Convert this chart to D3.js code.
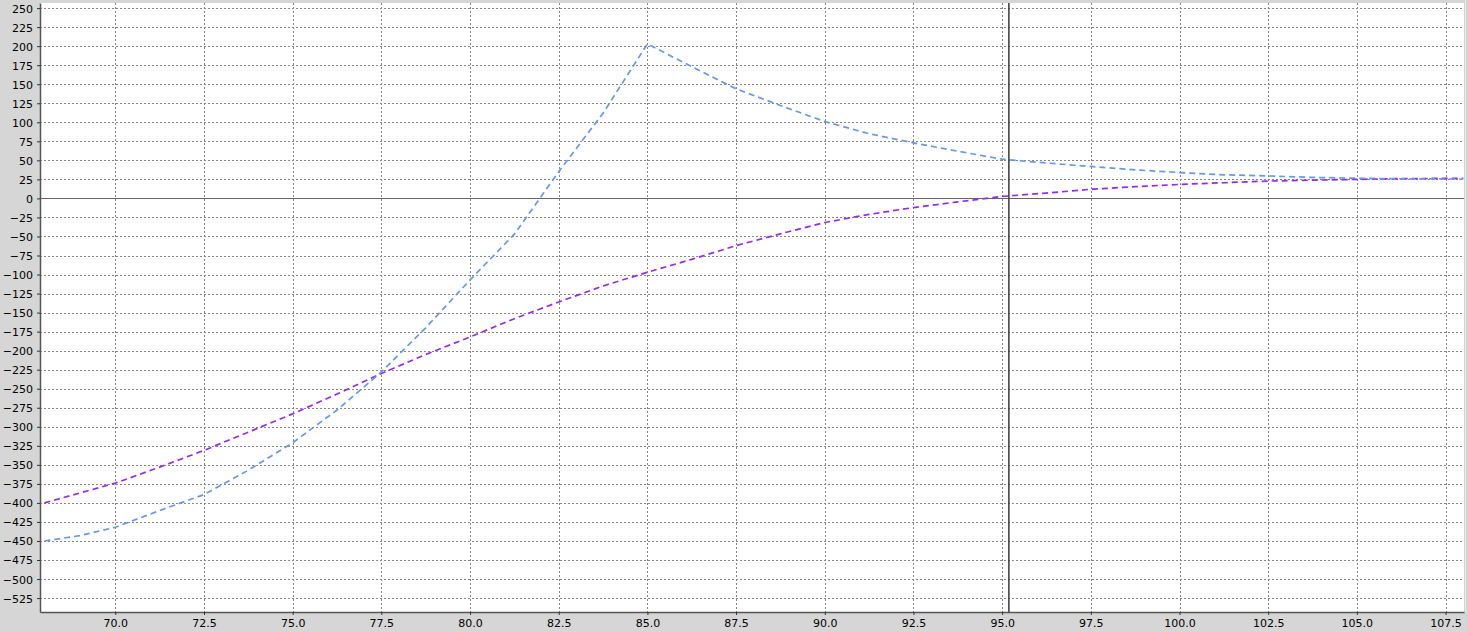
<!DOCTYPE html>
<html>
<head>
<meta charset="utf-8">
<script src="https://cdn.jsdelivr.net/npm/d3@7"></script>
<style>
  html, body { margin: 0; padding: 0; background: #d6d6d6; }
  svg { display: block; }
  .tick text { font-family: "DejaVu Sans", Verdana, sans-serif; font-size: 11px; fill: #000; }
</style>
</head>
<body>
<svg id="chart" width="1467" height="632"></svg>
<script>
// ---- data ----
const xValues = [68, 69, 70, 71.25, 72.5, 73.75, 75, 76.25, 77.5, 78.75, 80, 81.25, 82.5, 83.75, 85,
                 86.25, 87.5, 88.75, 90, 91.25, 92.5, 93.75, 95, 96.25, 97.5, 98.75, 100, 101.25,
                 102.5, 103.75, 105, 106.25, 107.5, 108];
const blueSeries = [-450, -443, -432, -410, -389, -357, -321, -278, -228, -170, -107, -47, 35, 112, 203,
                    173, 144, 122, 101, 85, 73, 62, 51.5, 46.5, 42, 37.5, 34, 31, 29.5, 27.6, 26.5, 25.8, 25.5, 25.5];
const purpleSeries = [-400, -387, -374, -353, -331, -307, -283, -257, -230, -205, -182, -158, -136, -115, -97,
                      -80, -62, -46.5, -31.6, -21, -12, -4.5, 2.6, 7, 12, 15.4, 18.4, 20.6, 22.8, 24, 25, 26, 26.3, 26.5];
const xTicks = [70, 72.5, 75, 77.5, 80, 82.5, 85, 87.5, 90, 92.5, 95, 97.5, 100, 102.5, 105, 107.5];
const yTicks = [250, 225, 200, 175, 150, 125, 100, 75, 50, 25, 0, -25, -50, -75, -100, -125, -150, -175,
                -200, -225, -250, -275, -300, -325, -350, -375, -400, -425, -450, -475, -500, -525];
const xDomain = [67.877, 108.02];
const yDomain = [-543.3, 256.7];
const cursorX = 95.19;

// ---- layout ----
const W = 1467, H = 632;
const margin = { left: 40, top: 3, right: 3, bottom: 20 };
const svg = d3.select("#chart");
const iw = W - margin.left - margin.right;
const ih = H - margin.top - margin.bottom;

const x = d3.scaleLinear().domain(xDomain).range([margin.left, margin.left + iw]);
const y = d3.scaleLinear().domain(yDomain).range([margin.top + ih, margin.top]);

// plot background
svg.append("rect")
  .attr("x", margin.left).attr("y", margin.top)
  .attr("width", iw).attr("height", ih)
  .attr("fill", "#ffffff");

// right border highlight
svg.append("line")
  .attr("x1", margin.left + iw + 1.5).attr("x2", margin.left + iw + 1.5)
  .attr("y1", 0).attr("y2", margin.top + ih)
  .attr("stroke", "#ececec").attr("stroke-width", 1);

svg.append("clipPath").attr("id", "clip")
  .append("rect").attr("x", margin.left).attr("y", margin.top).attr("width", iw).attr("height", ih);

const grid = svg.append("g").attr("clip-path", "url(#clip)");

// grid lines
grid.selectAll("line.gy").data(yTicks.filter(d => d !== 0)).join("line")
  .attr("class", "gy")
  .attr("x1", margin.left).attr("x2", margin.left + iw)
  .attr("y1", d => Math.round(y(d)) + 0.5).attr("y2", d => Math.round(y(d)) + 0.5)
  .attr("stroke", "#888888").attr("stroke-width", 1)
  .attr("stroke-dasharray", "2,2");

grid.selectAll("line.gx").data(xTicks).join("line")
  .attr("class", "gx")
  .attr("x1", d => Math.round(x(d)) + 0.5).attr("x2", d => Math.round(x(d)) + 0.5)
  .attr("y1", margin.top).attr("y2", margin.top + ih)
  .attr("stroke", "#888888").attr("stroke-width", 1)
  .attr("stroke-dasharray", "2,2");

// zero line
grid.append("line")
  .attr("x1", margin.left).attr("x2", margin.left + iw)
  .attr("y1", Math.round(y(0)) + 0.5).attr("y2", Math.round(y(0)) + 0.5)
  .attr("stroke", "#666666").attr("stroke-width", 1);

// series
const line = d3.line().x((d, i) => x(xValues[i])).y(d => y(d));

grid.append("path")
  .datum(purpleSeries)
  .attr("d", line)
  .attr("fill", "none")
  .attr("stroke", "#9a28f2")
  .attr("stroke-width", 1.7)
  .attr("stroke-dasharray", "6,4");

grid.append("path")
  .datum(blueSeries)
  .attr("d", line)
  .attr("fill", "none")
  .attr("stroke", "#6699ee")
  .attr("stroke-width", 1.7)
  .attr("stroke-dasharray", "6,4");

// cursor vertical line
grid.append("line")
  .attr("x1", x(cursorX)).attr("x2", x(cursorX))
  .attr("y1", margin.top).attr("y2", margin.top + ih)
  .attr("stroke", "#444444").attr("stroke-width", 1.6);

// axes
const xAxis = d3.axisBottom(x).tickValues(xTicks).tickFormat(d3.format(".1f")).tickSize(3).tickSizeOuter(0).tickPadding(4);
const yAxis = d3.axisLeft(y).tickValues(yTicks).tickFormat(d3.format("d")).tickSize(3).tickSizeOuter(0).tickPadding(4);

const gx = svg.append("g").attr("transform", `translate(0,${margin.top + ih})`).call(xAxis);
const gy = svg.append("g").attr("transform", `translate(${margin.left},0)`).call(yAxis);

[gx, gy].forEach(g => {
  g.select(".domain").attr("stroke", "#555555").attr("stroke-width", 1.5);
  g.selectAll(".tick line").attr("stroke", "#333333");
});
gy.selectAll(".tick text").attr("dy", "0.36em");
</script>
</body>
</html>
